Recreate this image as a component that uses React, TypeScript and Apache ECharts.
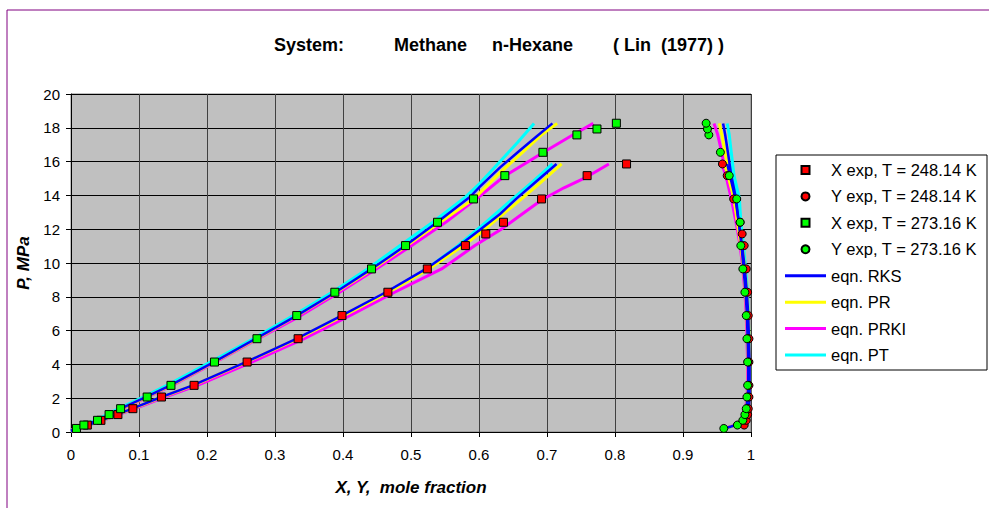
import React, { useEffect, useRef } from "react";
import * as echarts from "echarts";

// ---------- Data ----------
const xTicks = [0, 0.1, 0.2, 0.3, 0.4, 0.5, 0.6, 0.7, 0.8, 0.9, 1];
const yTicks = [0, 2, 4, 6, 8, 10, 12, 14, 16, 18, 20];

// Experimental points [x or y mole fraction, P MPa]
const xExp248 = [[0.024,0.41],[0.044,0.69],[0.069,1.03],[0.091,1.38],[0.133,2.07],[0.181,2.76],[0.259,4.14],[0.334,5.52],[0.3985,6.89],[0.466,8.27],[0.524,9.65],[0.58,11.03],[0.61,11.72],[0.636,12.41],[0.692,13.79],[0.759,15.17],[0.817,15.86]];
const yExp248 = [[0.99,0.41],[0.993,0.69],[0.995,1.03],[0.996,1.38],[0.997,2.07],[0.997,2.76],[0.997,4.14],[0.997,5.52],[0.996,6.89],[0.995,8.27],[0.993,9.65],[0.99,11.03],[0.987,11.72],[0.984,12.41],[0.9745,13.79],[0.965,15.17],[0.958,15.86]];
const xExp273 = [[0.008,0.21],[0.019,0.41],[0.039,0.69],[0.056,1.03],[0.073,1.38],[0.112,2.07],[0.147,2.76],[0.211,4.14],[0.2735,5.52],[0.332,6.89],[0.388,8.27],[0.442,9.65],[0.492,11.03],[0.539,12.41],[0.592,13.79],[0.638,15.17],[0.694,16.55],[0.744,17.58],[0.7735,17.93],[0.802,18.27]];
const yExp273 = [[0.96,0.21],[0.98,0.41],[0.988,0.69],[0.991,1.03],[0.993,1.38],[0.994,2.07],[0.995,2.76],[0.995,4.14],[0.994,5.52],[0.993,6.89],[0.991,8.27],[0.988,9.65],[0.985,11.03],[0.984,12.41],[0.979,13.79],[0.968,15.17],[0.955,16.55],[0.938,17.58],[0.936,17.93],[0.934,18.27]];

// Model curves: liquid (L) and vapour (V) branches
const rks248L = [[0,0.05],[0.045,0.69],[0.09,1.38],[0.133,2.07],[0.179,2.76],[0.257,4.14],[0.332,5.52],[0.398,6.89],[0.463,8.27],[0.522,9.65],[0.571,11.03],[0.601,11.95],[0.631,12.9],[0.655,13.81],[0.685,14.85],[0.714,15.86]];
const pr248L = [[0,0.05],[0.046,0.69],[0.091,1.38],[0.134,2.07],[0.18,2.76],[0.258,4.14],[0.334,5.52],[0.401,6.89],[0.467,8.27],[0.526,9.65],[0.577,11.03],[0.601,11.75],[0.631,12.75],[0.663,13.81],[0.693,14.85],[0.7215,15.86]];
const prki248L = [[0,0.05],[0.047,0.69],[0.094,1.38],[0.138,2.07],[0.186,2.76],[0.266,4.14],[0.343,5.52],[0.41,6.89],[0.476,8.27],[0.545,9.65],[0.594,11.03],[0.631,11.95],[0.66,12.8],[0.692,13.73],[0.725,14.45],[0.759,15.1],[0.791,15.86]];
const pt248L = [[0,0.05],[0.047,0.69],[0.093,1.38],[0.137,2.07],[0.184,2.76],[0.264,4.14],[0.339,5.52],[0.403,6.89],[0.466,8.27],[0.523,9.65],[0.569,11.03],[0.601,12.1],[0.631,13.15],[0.65,13.81],[0.68,14.85],[0.708,15.86]];

const rks273L = [[0,0.1],[0.02,0.41],[0.039,0.69],[0.057,1.03],[0.073,1.38],[0.11,2.07],[0.146,2.76],[0.21,4.14],[0.272,5.52],[0.332,6.89],[0.389,8.27],[0.442,9.65],[0.492,11.03],[0.54,12.45],[0.587,13.92],[0.601,14.5],[0.631,15.66],[0.657,16.55],[0.685,17.5],[0.708,18.26]];
const pr273L = [[0,0.1],[0.02,0.41],[0.04,0.69],[0.058,1.03],[0.074,1.38],[0.111,2.07],[0.147,2.76],[0.211,4.14],[0.273,5.52],[0.333,6.89],[0.39,8.27],[0.444,9.65],[0.494,11.03],[0.543,12.41],[0.593,13.81],[0.631,15.35],[0.664,16.55],[0.691,17.55],[0.715,18.26]];
const prki273L = [[0,0.1],[0.02,0.41],[0.04,0.69],[0.058,1.03],[0.075,1.38],[0.113,2.07],[0.149,2.76],[0.213,4.14],[0.275,5.52],[0.338,6.89],[0.395,8.27],[0.449,9.65],[0.501,11.03],[0.551,12.41],[0.601,13.95],[0.636,15.1],[0.695,16.55],[0.739,17.6],[0.768,18.26]];
const pt273L = [[0,0.1],[0.018,0.41],[0.036,0.69],[0.053,1.03],[0.07,1.38],[0.106,2.07],[0.141,2.76],[0.205,4.14],[0.268,5.52],[0.327,6.89],[0.384,8.27],[0.436,9.65],[0.484,11.03],[0.532,12.41],[0.58,13.9],[0.601,14.7],[0.631,16.0],[0.657,17.15],[0.681,18.26]];

const rks248V = [[0.965,15.86],[0.969,15.18],[0.977,13.81],[0.982,12.41],[0.987,11.03],[0.991,9.65],[0.994,8.27],[0.996,6.89],[0.997,5.52],[0.998,4.14],[0.998,2.76],[0.998,2.07],[0.997,1.38],[0.996,1.03],[0.994,0.69],[0.99,0.41]];
const pr248V = [[0.961,15.86],[0.966,15.18],[0.975,13.81],[0.981,12.41],[0.987,11.03],[0.991,9.65],[0.994,8.27],[0.996,6.89],[0.997,5.52],[0.998,4.14],[0.998,2.76],[0.998,2.07],[0.997,1.38],[0.996,1.03],[0.994,0.69],[0.99,0.41]];
const prki248V = [[0.957,15.86],[0.963,15.18],[0.973,13.81],[0.98,12.41],[0.986,11.03],[0.99,9.65],[0.993,8.27],[0.995,6.89],[0.996,5.52],[0.997,4.14],[0.998,2.76],[0.998,2.07],[0.997,1.38],[0.996,1.03],[0.994,0.69],[0.99,0.41]];
const pt248V = [[0.969,15.86],[0.973,15.18],[0.981,13.81],[0.985,12.41],[0.989,11.03],[0.992,9.65],[0.995,8.27],[0.996,6.89],[0.997,5.52],[0.998,4.14],[0.998,2.76],[0.998,2.07],[0.997,1.38],[0.996,1.03],[0.994,0.69],[0.99,0.41]];

const rks273V = [[0.959,18.26],[0.962,17.6],[0.966,16.55],[0.971,15.18],[0.978,13.81],[0.982,12.41],[0.986,11.03],[0.989,9.65],[0.992,8.27],[0.994,6.89],[0.995,5.52],[0.996,4.14],[0.996,2.76],[0.995,2.07],[0.993,1.38],[0.991,1.03],[0.986,0.69],[0.978,0.41],[0.961,0.21]];
const pr273V = [[0.9534,18.26],[0.957,17.6],[0.962,16.55],[0.968,15.18],[0.975,13.81],[0.98,12.41],[0.985,11.03],[0.989,9.65],[0.992,8.27],[0.994,6.89],[0.995,5.52],[0.996,4.14],[0.996,2.76],[0.995,2.07],[0.993,1.38],[0.991,1.03],[0.986,0.69],[0.978,0.41],[0.961,0.21]];
const prki273V = [[0.9456,18.26],[0.951,17.6],[0.957,16.55],[0.963,15.18],[0.971,13.81],[0.978,12.41],[0.984,11.03],[0.988,9.65],[0.991,8.27],[0.993,6.89],[0.994,5.52],[0.995,4.14],[0.995,2.76],[0.994,2.07],[0.992,1.38],[0.99,1.03],[0.985,0.69],[0.977,0.41],[0.96,0.21]];
const pt273V = [[0.965,18.26],[0.968,17.6],[0.971,16.55],[0.975,15.18],[0.983,13.81],[0.985,12.41],[0.988,11.03],[0.99,9.65],[0.993,8.27],[0.995,6.89],[0.996,5.52],[0.997,4.14],[0.997,2.76],[0.996,2.07],[0.994,1.38],[0.992,1.03],[0.987,0.69],[0.979,0.41],[0.962,0.21]];

const legendNames = [
  "X exp, T = 248.14 K",
  "Y exp, T = 248.14 K",
  "X exp, T = 273.16 K",
  "Y exp, T = 273.16 K",
  "eqn. RKS",
  "eqn. PR",
  "eqn. PRKI",
  "eqn. PT",
];

const FONT = 'Arial, "Liberation Sans", sans-serif';

const CYAN = "#00FFFF", MAG = "#FF00FF", YEL = "#FFFF00", BLUE = "#0000FF";
const RED = "#FF0000", GREEN = "#00FF00";

const SQUARE_ICON = "path://M0,0L8,0L8,8L0,8Z";
const LINE_ICON = "path://M0,0L41,0L41,3L0,3Z";

export default function App() {
  const ref = useRef<HTMLDivElement>(null);

  useEffect(() => {
    if (!ref.current) return;
    const chart = echarts.init(ref.current, null, { renderer: "svg" });

    const lineSeries = (name: string, color: string, width: number, data: number[][]) => ({
      name,
      type: "line",
      data,
      symbol: "none",
      showSymbol: false,
      lineStyle: { color, width },
      itemStyle: { color },
      z: 2,
    });

    const scatterSeries = (name: string, symbol: string, color: string, data: number[][]) => ({
      name,
      type: "scatter",
      data,
      symbol,
      symbolSize: 8,
      itemStyle: { color, borderColor: "#000", borderWidth: 1, opacity: 1 },
      z: 5,
    });

    const lineLegend = (name: string, color: string) => ({
      name,
      icon: LINE_ICON,
      itemStyle: { color, borderWidth: 0 },
    });

    chart.setOption({
      animation: false,
      backgroundColor: "#FFFFFF",
      title: {
        text: "System:          Methane     n-Hexane        ( Lin  (1977) )",
        left: 269,
        top: 31,
        textStyle: { fontFamily: FONT, fontSize: 18, fontWeight: "bold", color: "#000" },
      },
      grid: {
        left: 71,
        top: 94,
        width: 680,
        height: 338,
        show: true,
        backgroundColor: "#C0C0C0",
        borderColor: "#808080",
        borderWidth: 1,
      },
      xAxis: {
        type: "value",
        min: xTicks[0],
        max: xTicks[xTicks.length - 1],
        interval: 0.1,
        name: "X, Y,  mole fraction",
        nameLocation: "middle",
        nameGap: 47,
        nameTextStyle: { fontFamily: FONT, fontSize: 17, fontWeight: "bold", fontStyle: "italic", color: "#000" },
        axisLine: { lineStyle: { color: "#000", width: 1 } },
        axisTick: { show: true, length: 5, lineStyle: { color: "#000" } },
        axisLabel: { fontFamily: FONT, fontSize: 15, color: "#000", margin: 15 },
        splitLine: { show: true, lineStyle: { color: "#404040", width: 1 } },
      },
      yAxis: {
        type: "value",
        min: yTicks[0],
        max: yTicks[yTicks.length - 1],
        interval: 2,
        name: "P, MPa",
        nameLocation: "middle",
        nameGap: 36,
        nameTextStyle: { fontFamily: FONT, fontSize: 17, fontWeight: "bold", fontStyle: "italic", color: "#000" },
        axisLine: { show: true, lineStyle: { color: "#000", width: 1 } },
        axisTick: { show: true, length: 5, lineStyle: { color: "#000" } },
        axisLabel: { fontFamily: FONT, fontSize: 15, color: "#000", margin: 11 },
        splitLine: { show: true, lineStyle: { color: "#000", width: 1 } },
      },
      legend: {
        orient: "vertical",
        left: 785,
        top: 161,
        padding: 0,
        itemWidth: 41,
        itemHeight: 8,
        itemGap: 8.43,
        symbolKeepAspect: true,
        data: [
          { name: legendNames[0], icon: SQUARE_ICON },
          { name: legendNames[1], icon: "circle" },
          { name: legendNames[2], icon: SQUARE_ICON },
          { name: legendNames[3], icon: "circle" },
          lineLegend(legendNames[4], BLUE),
          lineLegend(legendNames[5], YEL),
          lineLegend(legendNames[6], MAG),
          lineLegend(legendNames[7], CYAN),
        ],
        textStyle: { fontFamily: FONT, fontSize: 16.5, lineHeight: 18, color: "#000" },
      },
      graphic: [
        { type: "rect", shape: { x: 776, y: 155, width: 211, height: 215 }, style: { fill: "none", stroke: "#000", lineWidth: 1 }, z: 10 },
        { type: "line", shape: { x1: 7, y1: 10, x2: 7, y2: 520 }, style: { stroke: "#800080", lineWidth: 1 } },
        { type: "line", shape: { x1: 7, y1: 10, x2: 1000, y2: 10 }, style: { stroke: "#800080", lineWidth: 1 } },
      ],
      series: [
        lineSeries(legendNames[7], CYAN, 3, pt248L),
        lineSeries(legendNames[7], CYAN, 3, pt273L),
        lineSeries(legendNames[7], CYAN, 3, pt248V),
        lineSeries(legendNames[7], CYAN, 3, pt273V),
        lineSeries(legendNames[6], MAG, 3, prki248L),
        lineSeries(legendNames[6], MAG, 3, prki273L),
        lineSeries(legendNames[6], MAG, 3, prki248V),
        lineSeries(legendNames[6], MAG, 3, prki273V),
        lineSeries(legendNames[5], YEL, 3, pr248L),
        lineSeries(legendNames[5], YEL, 3, pr273L),
        lineSeries(legendNames[5], YEL, 3, pr248V),
        lineSeries(legendNames[5], YEL, 3, pr273V),
        lineSeries(legendNames[4], BLUE, 2.5, rks248L),
        lineSeries(legendNames[4], BLUE, 2.5, rks273L),
        lineSeries(legendNames[4], BLUE, 2.5, rks248V),
        lineSeries(legendNames[4], BLUE, 2.5, rks273V),
        scatterSeries(legendNames[1], "circle", RED, yExp248),
        scatterSeries(legendNames[3], "circle", GREEN, yExp273),
        scatterSeries(legendNames[0], "rect", RED, xExp248),
        scatterSeries(legendNames[2], "rect", GREEN, xExp273),
      ],
    });

    return () => chart.dispose();
  }, []);

  return (
    <div
      ref={ref}
      style={{ position: "absolute", left: 0, top: 0, width: 989, height: 508, background: "#fff" }}
    />
  );
}
